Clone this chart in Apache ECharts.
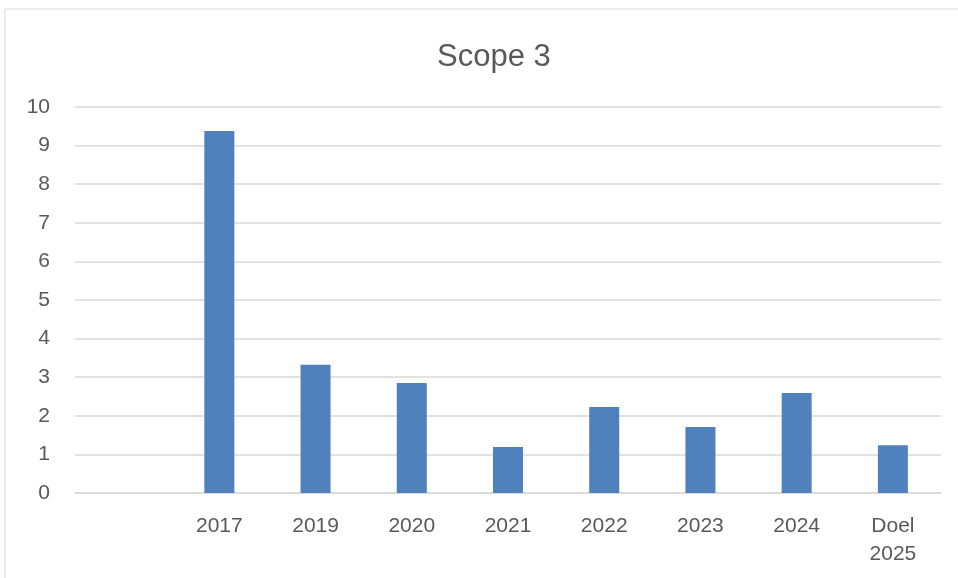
<!DOCTYPE html>
<html>
<head>
<meta charset="utf-8">
<script src="https://cdn.jsdelivr.net/npm/echarts@6/dist/echarts.min.js"></script>
<style>
  html, body { margin: 0; padding: 0; background: #fff; }
  #chart { width: 958px; height: 578px; }
</style>
</head>
<body>
<div id="chart"></div>
<script>
var categories = ['', '2017', '2019', '2020', '2021', '2022', '2023', '2024', 'Doel\n2025'];
var values = [null, 9.38, 3.32, 2.85, 1.19, 2.23, 1.71, 2.59, 1.24];

var myChart = echarts.init(document.getElementById('chart'));
var font = '"Liberation Sans", sans-serif';
var option = {
    animation: false,
    backgroundColor: '#fff',
    graphic: [{
        type: 'rect',
        shape: { x: 5, y: 9, width: 970, height: 600 },
        style: { fill: 'none', stroke: '#d9d9d9', lineWidth: 1 }
    }],
    title: {
        text: 'Scope 3',
        left: 432,
        top: 37,
        textStyle: { fontFamily: font, fontSize: 31, fontWeight: 'normal', color: '#595959' }
    },
    grid: { left: 75, right: 17, top: 107, bottom: 85, containLabel: false },
    xAxis: {
        type: 'category',
        data: categories,
        axisLine: { lineStyle: { color: '#d9d9d9', width: 1.5 } },
        axisTick: { show: false },
        axisLabel: { color: '#595959', fontFamily: font, fontSize: 21, margin: 19, lineHeight: 28, interval: 0 }
    },
    yAxis: {
        type: 'value',
        min: 0,
        max: 10,
        interval: 1,
        axisLine: { show: false },
        axisTick: { show: false },
        splitLine: { lineStyle: { color: '#d9d9d9', width: 1.5 } },
        axisLabel: { color: '#595959', fontFamily: font, fontSize: 21, margin: 25 }
    },
    series: [{
        type: 'bar',
        data: values,
        barWidth: 30,
        itemStyle: { color: '#4f81bd' }
    }]
};
myChart.setOption(option);
</script>
</body>
</html>
